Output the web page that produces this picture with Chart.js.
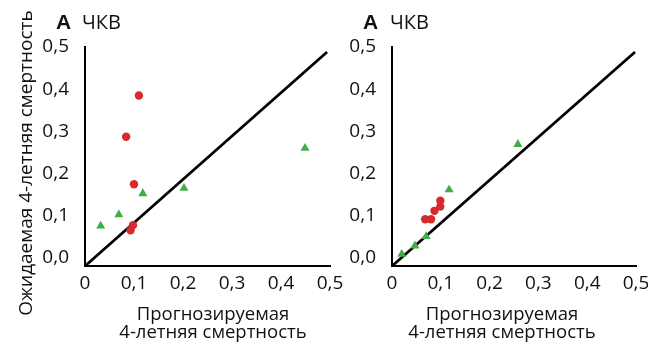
<!DOCTYPE html>
<html>
<head>
<meta charset="utf-8">
<script src="https://cdn.jsdelivr.net/npm/chart.js@4/dist/chart.umd.min.js"></script>
<style>
  html, body { margin: 0; padding: 0; background: #fff; }
  #wrap { position: relative; width: 648px; height: 346px; overflow: hidden; }
  #leftBox { position: absolute; left: 0; top: 0; width: 345px; height: 346px; }
  #rightBox { position: absolute; left: 345px; top: 0; width: 303px; height: 346px; }
</style>
</head>
<body>
<div id="wrap">
  <div id="leftBox"><canvas id="chartLeft" width="345" height="346"></canvas></div>
  <div id="rightBox"><canvas id="chartRight" width="303" height="346"></canvas></div>
</div>
<script>
// values
const tickValues = [0, 0.1, 0.2, 0.3, 0.4, 0.5];

const leftRedX = [0.110, 0.084, 0.100, 0.098, 0.093];
const leftRedY = [0.385, 0.287, 0.174, 0.077, 0.065];
const leftGreenX = [0.032, 0.069, 0.118, 0.202, 0.449];
const leftGreenY = [0.075, 0.102, 0.152, 0.165, 0.260];

const rightRedX = [0.068, 0.080, 0.087, 0.099, 0.099];
const rightRedY = [0.091, 0.091, 0.111, 0.121, 0.135];
const rightGreenX = [0.020, 0.047, 0.070, 0.117, 0.258];
const rightGreenY = [0.008, 0.028, 0.050, 0.161, 0.269];

const leftDiagX = [0, 0.494];
const leftDiagY = [-0.02, 0.488];
const rightDiagX = [0, 0.498];
const rightDiagY = [-0.02, 0.488];

const panelLetter = "A";
const panelName = "ЧКВ";
const xTitleLines = ["Прогнозируемая", "4-летняя смертность"];
const yTitle = "Ожидаемая 4-летняя смертность";

const FONT = "'Open Sans', sans-serif";
const RED = "#d62a2e";
const GREEN = "#3fae49";

const toPoints = (xs, ys) => xs.map((x, i) => ({ x: x, y: ys[i] }));
const fmt = (v) => (v === 0 ? "0" : v.toFixed(1).replace(".", ","));

// draws the panel heading and axis titles at fixed spots
const textPlugin = {
  id: "texts",
  afterDraw(chart, args, opts) {
    const ctx = chart.ctx;
    ctx.save();
    ctx.fillStyle = "#111";
    ctx.textBaseline = "alphabetic";
    ctx.textAlign = "left";
    ctx.font = "bold 21px 'Liberation Sans', sans-serif";
    ctx.fillText(panelLetter, opts.letterX, 29);
    ctx.font = "20px " + FONT;
    ctx.fillText(panelName, opts.nameX, 29);

    ctx.textAlign = "center";
    ctx.font = "18.5px " + FONT;
    ctx.fillText(xTitleLines[0], opts.xTitleX, 320);
    ctx.fillText(xTitleLines[1], opts.xTitleX, 338);

    if (opts.showY) {
      ctx.translate(32, 163);
      ctx.rotate(-Math.PI / 2);
      ctx.font = "19px " + FONT;
      ctx.fillText(yTitle, 0, 0);
    }
    ctx.restore();
  },
};

function makeChart(id, red, green, diag, cfg) {
  return new Chart(id, {
    type: "scatter",
    data: {
      datasets: [
        {
          data: red,
          pointStyle: "circle",
          pointRadius: 4.2,
          backgroundColor: RED,
          borderColor: RED,
          borderWidth: 0,
        },
        {
          data: green,
          pointStyle: "triangle",
          pointRadius: 5.2,
          backgroundColor: GREEN,
          borderColor: GREEN,
          borderWidth: 0,
        },
        {
          data: diag,
          showLine: true,
          pointRadius: 0,
          borderColor: "#000",
          borderWidth: 2.8,
          fill: false,
        },
      ],
    },
    options: {
      responsive: false,
      animation: false,
      layout: { padding: { left: 0, right: cfg.padRight, top: 47, bottom: 0 } },
      plugins: {
        legend: { display: false },
        tooltip: { enabled: false },
        texts: cfg.texts,
      },
      scales: {
        x: {
          type: "linear",
          min: 0,
          max: 0.5,
          afterBuildTicks: (s) => { s.ticks = tickValues.map((v) => ({ value: v })); },
          afterFit: (s) => { s.height = 80; },
          grid: { display: false },
          border: { display: true, color: "#000", width: 2 },
          ticks: {
            padding: -2,
            color: "#111",
            font: { family: FONT, size: 19 },
            callback: (v) => fmt(v),
            maxRotation: 0,
            autoSkip: false,
          },
        },
        y: {
          type: "linear",
          min: -0.02,
          max: 0.5,
          afterBuildTicks: (s) => { s.ticks = tickValues.map((v) => ({ value: v })); },
          afterFit: (s) => { s.width = cfg.yWidth; },
          grid: { display: false },
          border: { display: true, color: "#000", width: 2 },
          ticks: {
            padding: 8,
            color: "#111",
            font: { family: FONT, size: 19 },
            callback: (v) => v.toFixed(1).replace(".", ","),
            autoSkip: false,
          },
        },
      },
    },
    plugins: [textPlugin],
  });
}

makeChart("chartLeft",
  toPoints(leftRedX, leftRedY),
  toPoints(leftGreenX, leftGreenY),
  toPoints(leftDiagX, leftDiagY),
  { padRight: 15, yWidth: 85, texts: { letterX: 56, nameX: 82, xTitleX: 213, showY: true } });

makeChart("chartRight",
  toPoints(rightRedX, rightRedY),
  toPoints(rightGreenX, rightGreenY),
  toPoints(rightDiagX, rightDiagY),
  { padRight: 12, yWidth: 47, texts: { letterX: 18, nameX: 45, xTitleX: 157, showY: false } });
</script>
</body>
</html>
